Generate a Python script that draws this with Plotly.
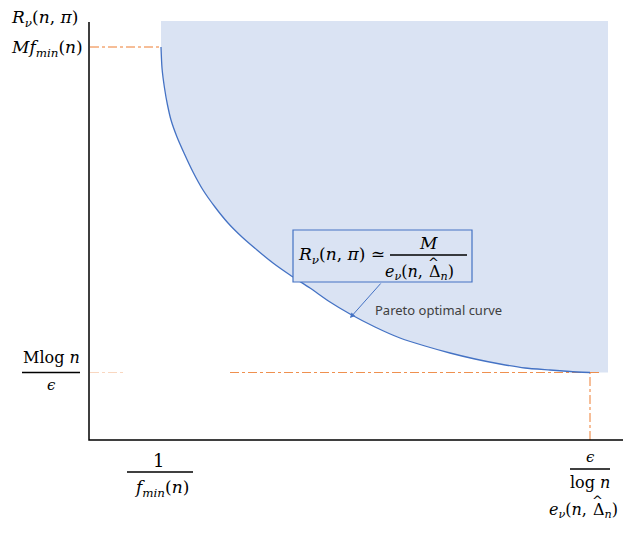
import plotly.graph_objects as go

# Pareto curve (efficiency e, regret R), arbitrary units
curve_e = [0.72, 0.73, 0.755, 0.785, 0.82, 0.88, 0.95, 1.04, 1.14, 1.26, 1.39, 1.53, 1.68, 1.84,
           2.01, 2.21, 2.41, 2.61, 2.86, 3.11, 3.36, 3.61, 3.86, 4.11, 4.36, 4.61, 4.81, 5.01]
curve_r = [3.93, 3.72, 3.52, 3.35, 3.20, 3.03, 2.87, 2.68, 2.50, 2.33, 2.17, 2.03, 1.90, 1.77,
           1.65, 1.52, 1.38, 1.26, 1.13, 1.02, 0.94, 0.87, 0.81, 0.76, 0.72, 0.70, 0.685, 0.675]

# key levels on both axes
e_low, e_high = curve_e[0], curve_e[-1]      # 1/f_min(n), eps/log n
r_high, r_low = curve_r[0], curve_r[-1]      # M f_min(n), M log n / eps
e_max, r_max = 5.34, 4.18                    # axis extents
shade_right, shade_top = 5.19, 4.19

BLUE = "#4472C4"
SHADE = "#DAE3F3"
ORANGE = "#ED7D31"
MATH = "DejaVu Serif"

fig = go.Figure()

# achievable region
fig.add_trace(go.Scatter(
    x=curve_e + [shade_right, shade_right, e_low],
    y=curve_r + [r_low, shade_top, shade_top],
    fill="toself", fillcolor=SHADE, mode="lines",
    line=dict(width=0, color=SHADE), hoverinfo="skip"))

# guide lines
fig.add_trace(go.Scatter(x=[0.01, e_low], y=[r_high, r_high], mode="lines",
                         line=dict(color=ORANGE, width=1, dash="dashdot"), hoverinfo="skip"))
fig.add_trace(go.Scatter(x=[0.01, 0.34], y=[r_low, r_low], mode="lines", opacity=0.3,
                         line=dict(color=ORANGE, width=1, dash="dashdot"), hoverinfo="skip"))
fig.add_trace(go.Scatter(x=[1.41, 5.10], y=[r_low, r_low], mode="lines", opacity=0.85,
                         line=dict(color=ORANGE, width=1, dash="dashdot"), hoverinfo="skip"))
fig.add_trace(go.Scatter(x=[e_high, e_high], y=[0, r_low], mode="lines",
                         line=dict(color=ORANGE, width=1, dash="dashdot"), hoverinfo="skip"))

# pareto curve
fig.add_trace(go.Scatter(x=curve_e, y=curve_r, mode="lines",
                         line=dict(color=BLUE, width=1.3, shape="spline", smoothing=0.6),
                         hoverinfo="skip"))

# axes
fig.add_trace(go.Scatter(x=[0, 0, e_max], y=[r_max, 0, 0], mode="lines",
                         line=dict(color="black", width=1.5), hoverinfo="skip"))

# formula box
fig.add_shape(type="rect", x0=2.04, x1=3.83, y0=1.58, y1=2.10,
              fillcolor=SHADE, line=dict(color=BLUE, width=1.2))

def txt(x, y, s, size=17, anchor="center", font=MATH, color="black"):
    fig.add_annotation(x=x, y=y, text=s, showarrow=False, xanchor=anchor, yanchor="middle",
                       font=dict(family=font, size=size, color=color))

def bar(x0, x1, y):
    fig.add_shape(type="line", x0=x0, x1=x1, y0=y, y1=y, line=dict(color="black", width=1.3))

def e_delta(x, y, size=16):
    # e_nu(n, Delta-hat_n) split at the Delta so the hat can sit on it
    txt(x, y, "<i>e</i><sub><i>ν</i></sub>(<i>n</i>,", size, "right")
    txt(x + 0.02, y, "Δ<sub><i>n</i></sub>)", size, "left")
    txt(x + 0.085, y + 0.10, "^", 13, font="DejaVu Sans")

txt(-0.80, 4.22, "<i>R</i><sub><i>ν</i></sub>(<i>n</i>, <i>π</i>)", 17, "left")
txt(-0.80, 3.92, "<i>Mf</i><sub><i>min</i></sub>(<i>n</i>)", 17, "left")
txt(-0.38, 0.83, "Mlog <i>n</i>", 16)
bar(-0.67, -0.09, r_low)
txt(-0.38, 0.55, "<i>ϵ</i>", 15)

txt(e_low - 0.03, -0.20, "1", 18)
bar(e_low - 0.34, e_low + 0.32, -0.32)
txt(e_low, -0.48, "<i>f</i><sub><i>min</i></sub>(<i>n</i>)", 17)

txt(e_high, -0.17, "<i>ϵ</i>", 15)
bar(e_high - 0.20, e_high + 0.20, -0.29)
txt(e_high, -0.42, "log <i>n</i>", 16)
e_delta(5.00, -0.70)

txt(2.07, 1.85, "<i>R</i><sub><i>ν</i></sub>(<i>n</i>, <i>π</i>) ≃", 17, "left")
txt(3.39, 1.97, "<i>M</i>", 17)
bar(3.01, 3.78, 1.85)
e_delta(3.36, 1.68)

fig.add_annotation(x=2.61, y=1.22, ax=2.93, ay=1.58, axref="x", ayref="y", text="",
                   showarrow=True, arrowhead=2, arrowsize=1, arrowwidth=1, arrowcolor=BLUE)
txt(2.84, 1.30, "Pareto optimal curve", 13, "left", "Noto Sans", "#404040")

# the page body has an 8px margin, so the ranges are offset to line up with the reference
fig.update_layout(
    width=632, height=558,
    margin=dict(l=0, r=0, t=0, b=0),
    plot_bgcolor="white", paper_bgcolor="white",
    showlegend=False,
    xaxis=dict(visible=False, range=[-0.81, 5.51], fixedrange=True),
    yaxis=dict(visible=False, range=[-1.26, 4.32], fixedrange=True),
)

fig.write_html("out.html")
